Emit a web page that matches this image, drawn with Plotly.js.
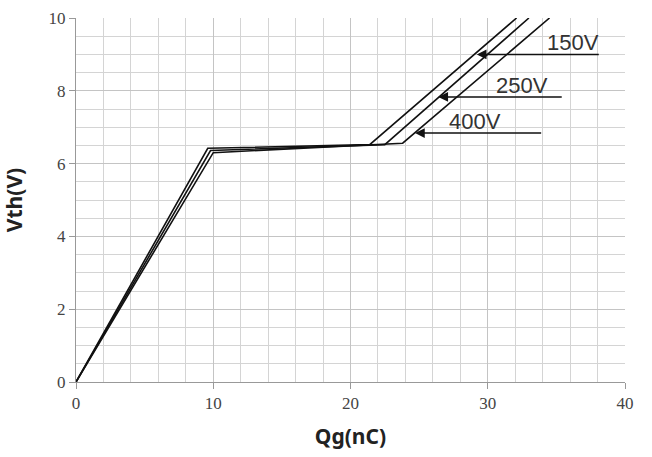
<!DOCTYPE html>
<html><head><meta charset="utf-8">
<script src="https://cdn.plot.ly/plotly-3.0.1.min.js"></script>
<style>html,body{margin:0;padding:0;background:#fff}#c{width:652px;height:457px}</style>
</head><body><div id="c"></div>
<script>
const seriesNames = ["150V", "250V", "400V"];
const qg150 = [0, 9.6, 21.4, 32.1];
const vth150 = [0, 6.42, 6.52, 10];
const qg250 = [0, 9.8, 22.5, 33.0];
const vth250 = [0, 6.36, 6.52, 10];
const qg400 = [0, 10.0, 23.8, 34.5];
const vth400 = [0, 6.3, 6.56, 10];
// arrow labels: tail x, tip x, y
const arrowTailX = [38.2, 35.5, 34.0];
const arrowTipX = [29.2, 26.4, 24.7];
const arrowY = [9.0, 7.83, 6.84];
const labelX = [36.2, 32.5, 29.1];

const xs = [qg150, qg250, qg400];
const ys = [vth150, vth250, vth400];
const traces = seriesNames.map((n, i) => ({
  x: xs[i], y: ys[i], name: n, mode: 'lines', type: 'scatter',
  line: {color: '#111', width: 1.6}, hoverinfo: 'skip'
}));

const annotations = [];
seriesNames.forEach((n, i) => {
  annotations.push({
    x: arrowTipX[i], y: arrowY[i], ax: arrowTailX[i], ay: arrowY[i],
    xref: 'x', yref: 'y', axref: 'x', ayref: 'y', text: '',
    showarrow: true, arrowhead: 2, arrowsize: 1.3, arrowwidth: 1.5, arrowcolor: '#111'
  });
  annotations.push({
    x: labelX[i], y: arrowY[i], xref: 'x', yref: 'y', text: n,
    showarrow: false, xanchor: 'center', yanchor: 'bottom', yshift: -3,
    font: {family: 'Liberation Sans, Arial, sans-serif', size: 22, color: '#333'}
  });
});

const layout = {
  width: 652, height: 457,
  margin: {l: 76, r: 27, t: 18, b: 75},
  paper_bgcolor: '#fff', plot_bgcolor: '#fff',
  showlegend: false,
  xaxis: {
    range: [0, 40], dtick: 10, tick0: 0,
    showgrid: true, gridcolor: '#c4c4c4', gridwidth: 1,
    minor: {dtick: 2, showgrid: true, gridcolor: '#d4d4d4', gridwidth: 1},
    ticks: 'outside', ticklen: 6, tickcolor: '#999',
    showline: true, linecolor: '#999', linewidth: 1, zeroline: false,
    tickfont: {family: 'Liberation Serif, DejaVu Serif, serif', size: 17, color: '#444'},
    title: {text: 'Qg(nC)', standoff: 16, font: {family: 'Noto Sans, DejaVu Sans, sans-serif', size: 21, color: '#222', weight: 'bold'}}
  },
  yaxis: {
    range: [0, 10], dtick: 2, tick0: 0,
    showgrid: true, gridcolor: '#c4c4c4', gridwidth: 1,
    minor: {dtick: 0.5, showgrid: true, gridcolor: '#d4d4d4', gridwidth: 1},
    ticks: 'outside', ticklen: 6, tickcolor: '#999',
    showline: true, linecolor: '#999', linewidth: 1, zeroline: false,
    tickfont: {family: 'Liberation Serif, DejaVu Serif, serif', size: 17, color: '#444'},
    title: {text: 'Vth(V)', standoff: 20, font: {family: 'Noto Sans, DejaVu Sans, sans-serif', size: 21, color: '#222', weight: 'bold'}}
  },
  annotations: annotations
};
Plotly.newPlot('c', traces, layout, {displayModeBar: false, staticPlot: true});
</script>
</body></html>
